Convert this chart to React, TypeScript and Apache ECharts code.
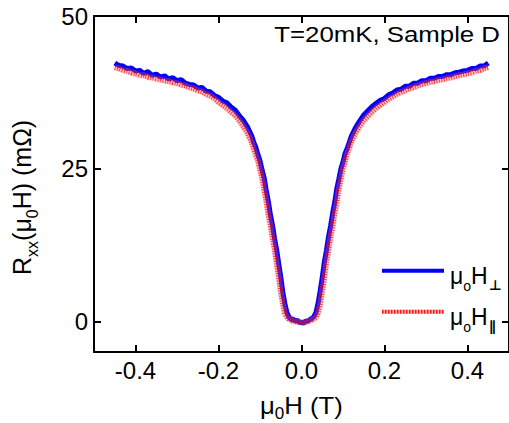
import React, { useEffect, useRef } from "react";
import * as echarts from "echarts";

// Magnetic field (T)
const fieldT = [
  -0.45, -0.44, -0.43, -0.42, -0.41, -0.4, -0.39, -0.38, -0.37, -0.36, -0.35, -0.34,
  -0.33, -0.32, -0.31, -0.3, -0.29, -0.28, -0.27, -0.26, -0.25, -0.24, -0.23, -0.22,
  -0.21, -0.2, -0.19, -0.18, -0.17, -0.16, -0.15, -0.14, -0.13, -0.12,
  -0.115, -0.11, -0.105, -0.1, -0.095, -0.09, -0.085, -0.08, -0.075, -0.07, -0.065, -0.06,
  -0.055, -0.05, -0.045, -0.04, -0.035, -0.03, -0.025, -0.02, -0.015, -0.01, -0.005, 0,
  0.005, 0.01, 0.015, 0.02, 0.025, 0.03, 0.035, 0.04, 0.045, 0.05, 0.055, 0.06,
  0.065, 0.07, 0.075, 0.08, 0.085, 0.09, 0.095, 0.1, 0.105, 0.11, 0.115,
  0.12, 0.13, 0.14, 0.15, 0.16, 0.17, 0.18, 0.19, 0.2, 0.21, 0.22, 0.23,
  0.24, 0.25, 0.26, 0.27, 0.28, 0.29, 0.3, 0.31, 0.32, 0.33, 0.34, 0.35,
  0.36, 0.37, 0.38, 0.39, 0.4, 0.41, 0.42, 0.43, 0.44, 0.45,
];

// R_xx with the field perpendicular (mΩ)
const rPerp = [
  42.3, 41.9, 41.8, 41.4, 41.5, 41.0, 41.1, 40.6, 40.9, 40.3, 40.5, 40.0,
  40.2, 39.7, 39.9, 39.4, 39.6, 39.0, 38.8, 38.7, 38.2, 38.3, 37.7, 37.6,
  37.0, 36.7, 36.1, 35.8, 35.1, 34.6, 33.7, 32.9, 31.8, 30.4,
  29.3, 28.5, 27.3, 26.3, 24.8, 23.5, 21.5, 19.7, 17.5, 15.8, 13.6, 11.8,
  9.5, 7.3, 4.8, 2.9, 1.4, 0.7, 0.3, 0.4, 0.0, 0.2, -0.2, -0.1,
  -0.3, 0.1, 0.0, 0.3, 0.5, 0.8, 1.5, 3.0, 5.0, 7.2, 9.7, 11.6,
  13.8, 15.6, 17.7, 19.5, 21.7, 23.3, 25.0, 26.1, 27.5, 28.3, 29.3,
  30.3, 31.7, 32.8, 33.8, 34.5, 35.2, 35.7, 36.2, 36.5, 37.1, 37.4, 37.9,
  38.0, 38.5, 38.5, 39.0, 39.0, 39.4, 39.4, 39.8, 39.8, 40.1, 40.1, 40.4,
  40.4, 40.7, 40.8, 41.0, 41.1, 41.4, 41.4, 41.8, 41.8, 42.3,
];

// R_xx with the field parallel (mΩ)
const rPar = [
  41.6, 41.4, 41.1, 41.0, 40.7, 40.6, 40.3, 40.3, 40.0, 39.9, 39.7, 39.6,
  39.4, 39.3, 39.1, 39.0, 38.7, 38.6, 38.3, 38.1, 37.8, 37.6, 37.2, 36.9,
  36.5, 35.9, 35.4, 34.9, 34.3, 33.7, 32.9, 31.9, 30.8, 29.3,
  28.2, 27.2, 26.3, 24.8, 23.5, 21.5, 19.7, 17.5, 15.8, 13.6, 11.8, 9.5,
  7.3, 4.8, 2.9, 1.2, 0.7, 0.3, 0.3, -0.1, 0.1, -0.2, 0.0, -0.3,
  -0.1, -0.2, 0.1, 0.0, 0.3, 0.4, 0.6, 1.4, 2.8, 5.0, 7.1, 9.7,
  11.6, 13.8, 15.6, 17.7, 19.5, 21.7, 23.3, 25.0, 26.1, 27.5, 28.3,
  29.4, 30.8, 31.9, 32.9, 33.6, 34.3, 34.9, 35.4, 35.9, 36.4, 36.8, 37.2,
  37.5, 37.8, 38.1, 38.3, 38.6, 38.8, 39.0, 39.2, 39.3, 39.5, 39.6, 39.8,
  39.9, 40.1, 40.3, 40.4, 40.6, 40.7, 41.0, 41.1, 41.4, 41.6,
];

const xTicks = [-0.4, -0.2, 0, 0.2, 0.4];
const yTicks = [0, 25, 50];
const annotation = "T=20mK, Sample D";

const FONT = "'Liberation Sans', Arial, Helvetica, sans-serif";
const SYM_FONT = "'DejaVu Sans', 'Liberation Sans', sans-serif";

export default function App() {
  const ref = useRef<HTMLDivElement>(null);

  useEffect(() => {
    const chart = echarts.init(ref.current!, null, { renderer: "svg" });
    const perpData = fieldT.map((x, i) => [x, rPerp[i]]);
    const parData = fieldT.map((x, i) => [x, rPar[i]]);

    const axisLine = { show: true, onZero: false, lineStyle: { color: "#000", width: 2 } };
    const tickStyle = { color: "#000", width: 2 };

    const txt = (
      text: string,
      x: number,
      y: number,
      size: number,
      extra: any = {}
    ) => ({
      type: "text",
      x,
      y,
      style: {
        text,
        fill: "#000",
        fontSize: size,
        fontFamily: FONT,
        align: "left",
        verticalAlign: "middle",
        ...extra,
      },
    });

    chart.setOption({
      animation: false,
      backgroundColor: "#fff",
      grid: { left: 94, top: 16, width: 417, height: 336, containLabel: false },
      xAxis: [
        {
          type: "value",
          position: "bottom",
          min: -0.5,
          max: 0.5,
          axisLine,
          axisTick: { show: true, inside: true, length: 7, lineStyle: tickStyle, customValues: xTicks },
          axisLabel: {
            show: true,
            customValues: xTicks,
            formatter: (v: number) => v.toFixed(1),
            fontSize: 24,
            color: "#000",
            fontFamily: FONT,
            margin: 6,
          },
          splitLine: { show: false },
        },
        {
          type: "value",
          position: "top",
          min: -0.5,
          max: 0.5,
          axisLine,
          axisTick: { show: true, inside: true, length: 7, lineStyle: tickStyle, customValues: xTicks },
          axisLabel: { show: false },
          splitLine: { show: false },
        },
      ],
      yAxis: [
        {
          type: "value",
          position: "left",
          min: -5,
          max: 50,
          axisLine,
          axisTick: { show: true, inside: true, length: 7, lineStyle: tickStyle, customValues: yTicks },
          axisLabel: {
            show: true,
            customValues: yTicks,
            fontSize: 24,
            color: "#000",
            fontFamily: FONT,
            margin: 6,
          },
          splitLine: { show: false },
        },
        {
          type: "value",
          position: "right",
          min: -5,
          max: 50,
          axisLine,
          axisTick: { show: true, inside: true, length: 7, lineStyle: tickStyle, customValues: yTicks },
          axisLabel: { show: false },
          splitLine: { show: false },
        },
      ],
      series: [
        {
          name: "perp",
          type: "line",
          xAxisIndex: 0,
          yAxisIndex: 0,
          data: perpData,
          showSymbol: false,
          symbol: "none",
          lineStyle: { color: "#0000ff", width: 5 },
          z: 2,
        },
        {
          name: "par-halo",
          type: "line",
          xAxisIndex: 0,
          yAxisIndex: 0,
          data: parData,
          showSymbol: false,
          symbol: "none",
          lineStyle: { color: "rgba(255,90,90,0.35)", width: 6 },
          z: 3,
        },
        {
          name: "par",
          type: "line",
          xAxisIndex: 0,
          yAxisIndex: 0,
          data: parData,
          showSymbol: false,
          symbol: "none",
          lineStyle: { color: "rgba(235,0,0,0.7)", width: 5, type: [1, 1.5] },
          z: 4,
        },
      ],
      graphic: [
        {
          type: "text",
          x: 500,
          y: 34.5,
          scaleX: 1.2,
          style: {
            text: annotation,
            fill: "#000",
            fontSize: 21.5,
            fontFamily: FONT,
            align: "right",
            verticalAlign: "middle",
          },
        },
        // y-axis title, rotated
        {
          type: "group",
          x: 22,
          y: 275,
          rotation: Math.PI / 2,
          children: [
            txt("R", 0, 0, 25),
            txt("xx", 18.05, 10.5, 16),
            txt("(\u03bc", 34.05, 0, 25),
            txt("0", 56.78, 10.5, 16),
            txt("H) (m\u03a9)", 65.68, 0, 25),
          ],
        },
        // x-axis title
        {
          type: "group",
          x: 260,
          y: 405.5,
          scaleX: 1.07,
          children: [
            txt("\u03bc", 0, 0, 24),
            txt("0", 13.8, 8.5, 16),
            txt("H (T)", 22.7, 0, 24),
          ],
        },
        // legend
        {
          type: "line",
          shape: { x1: 382, y1: 270.7, x2: 444, y2: 270.7 },
          style: { stroke: "#0000ff", lineWidth: 4 },
        },
        {
          type: "line",
          shape: { x1: 382, y1: 311.7, x2: 444, y2: 311.7 },
          style: { stroke: "#ffb0b0", lineWidth: 4 },
        },
        {
          type: "line",
          shape: { x1: 382, y1: 311.7, x2: 444, y2: 311.7 },
          style: { stroke: "rgba(255,0,0,0.85)", lineWidth: 4, lineDash: [1.5, 1.5] },
        },
        {
          type: "group",
          x: 450,
          y: 276,
          children: [
            txt("\u03bc", 0, 0, 23),
            txt("o", 13.2, 10, 14),
            txt("H", 21, 0, 23),
            txt("\u22a5", 39, 9, 14, { fontFamily: SYM_FONT, fontWeight: "bold" }),
          ],
        },
        {
          type: "group",
          x: 450,
          y: 317,
          children: [
            txt("\u03bc", 0, 0, 23),
            txt("o", 13.2, 10, 14),
            txt("H", 21, 0, 23),
            txt("\u2225", 39, 9, 14, { fontFamily: SYM_FONT, fontWeight: "bold" }),
          ],
        },
      ],
    });

    return () => chart.dispose();
  }, []);

  return (
    <div
      ref={ref}
      style={{ position: "fixed", left: 0, top: 0, width: 509, height: 423, background: "#fff" }}
    />
  );
}
